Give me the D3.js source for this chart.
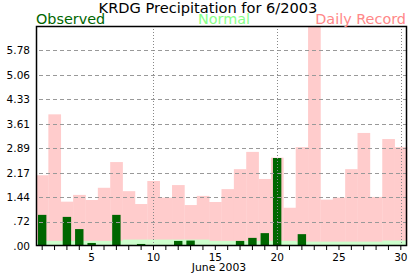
<!DOCTYPE html>
<html>
<head>
<meta charset="utf-8">
<script src="https://cdn.jsdelivr.net/npm/d3@7"></script>
<style>
  body { margin: 0; background: #fff; }
  svg { display: block; font-family: "DejaVu Sans", sans-serif; }
</style>
</head>
<body>
<svg id="chart"></svg>
<script>
// June 2003 daily values (inches)
const days = d3.range(1, 31);
const observed = [0.92, 0, 0.86, 0.50, 0.09, 0, 0.92, 0.03, 0.06, 0,
                  0, 0.15, 0.16, 0, 0, 0, 0.15, 0.24, 0.38, 2.60,
                  0.03, 0.35, 0, 0, 0, 0, 0, 0, 0, 0];
const normal = [0.15, 0.15, 0.15, 0.15, 0.15, 0.15, 0.15, 0.19, 0.19, 0.19,
                0.19, 0.19, 0.19, 0.19, 0.15, 0.15, 0.15, 0.15, 0.15, 0.15,
                0.15, 0.13, 0.13, 0.13, 0.13, 0.13, 0.13, 0.13, 0.16, 0.16];
const record = [2.09, 3.89, 1.31, 1.51, 1.36, 1.72, 2.48, 1.62, 1.24, 1.92,
                1.43, 1.80, 1.21, 1.48, 1.30, 1.68, 2.27, 2.78, 1.98, 2.61,
                1.13, 2.92, 6.50, 1.37, 1.43, 2.27, 3.34, 1.45, 3.16, 2.92];
const yTickValues = [0, 0.7222, 1.4444, 2.1667, 2.8889, 3.6111, 4.3333, 5.0556, 5.7778];
const xTickLabels = [5, 10, 15, 20, 25, 30];
const xGridDays = [10, 20, 30];

const width = 417;
const height = 276;
const margin = { top: 26, right: 10, bottom: 30, left: 36 };

const svg = d3.select("#chart").attr("width", width).attr("height", height);

const x = d3.scaleBand()
  .domain(days)
  .range([margin.left, width - margin.right])
  .padding(0);

const y = d3.scaleLinear()
  .domain([0, 6.5])
  .range([height - margin.bottom, margin.top]);

const bw = x.bandwidth();

// bars: record, then normal, then observed on top
svg.append("g")
  .selectAll("rect")
  .data(days)
  .join("rect")
  .attr("x", (d) => x(d))
  .attr("width", bw + 0.3)
  .attr("y", (d, i) => y(record[i]))
  .attr("height", (d, i) => y(0) - y(record[i]))
  .attr("fill", "#ffcccc");

svg.append("g")
  .selectAll("rect")
  .data(days)
  .join("rect")
  .attr("x", (d) => x(d))
  .attr("width", bw + 0.3)
  .attr("y", (d, i) => y(normal[i]))
  .attr("height", (d, i) => y(0) - y(normal[i]))
  .attr("fill", "#ccffcc");

svg.append("g")
  .selectAll("rect")
  .data(days.filter((d, i) => observed[i] > 0))
  .join("rect")
  .attr("x", (d) => x(d) + bw * 0.16)
  .attr("width", bw * 0.68)
  .attr("y", (d) => y(observed[d - 1]))
  .attr("height", (d) => y(0) - y(observed[d - 1]))
  .attr("fill", "#006600");

// grid on top of bars
svg.append("g")
  .selectAll("line")
  .data(yTickValues.slice(1))
  .join("line")
  .attr("x1", margin.left + 3)
  .attr("x2", width - margin.right)
  .attr("y1", (d) => Math.round(y(d)) + 0.5)
  .attr("y2", (d) => Math.round(y(d)) + 0.5)
  .attr("stroke", "#999")
  .attr("stroke-dasharray", "4,3");

svg.append("g")
  .selectAll("line")
  .data(xGridDays)
  .join("line")
  .attr("x1", (d) => Math.round(x(d) + bw / 2) + 0.5)
  .attr("x2", (d) => Math.round(x(d) + bw / 2) + 0.5)
  .attr("y1", margin.top)
  .attr("y2", height - margin.bottom)
  .attr("stroke", "#888")
  .attr("stroke-dasharray", "1,2");

// axes
const xAxis = svg.append("g")
  .attr("transform", `translate(0,${height - margin.bottom})`)
  .call(
    d3.axisBottom(x)
      .tickSize(4)
      .tickPadding(4)
      .tickFormat((d) => (xTickLabels.includes(d) ? d : ""))
  );
xAxis.select(".domain").remove();
xAxis.selectAll("text").attr("font-size", 10.5).attr("font-family", "DejaVu Sans").attr("fill", "#000");
xAxis.selectAll("line").attr("stroke", "#000");

const yAxis = svg.append("g")
  .attr("transform", `translate(${margin.left},0)`)
  .call(
    d3.axisLeft(y)
      .tickValues(yTickValues)
      .tickSize(0)
      .tickPadding(6)
      .tickFormat((d) => d3.format(".2f")(d).replace(/^0/, ""))
  );
yAxis.select(".domain").remove();
yAxis.selectAll("text").attr("font-size", 10.5).attr("font-family", "DejaVu Sans").attr("fill", "#000");

// plot frame
svg.append("rect")
  .attr("x", margin.left + 0.5)
  .attr("y", margin.top + 0.5)
  .attr("width", width - margin.left - margin.right - 1)
  .attr("height", height - margin.top - margin.bottom - 1)
  .attr("fill", "none")
  .attr("stroke", "#000")
  .attr("stroke-width", 1.5);

// titles
svg.append("text")
  .attr("x", 208)
  .attr("y", 12.5)
  .attr("text-anchor", "middle")
  .attr("font-size", 14.6)
  .text("KRDG Precipitation for 6/2003");

svg.append("text")
  .attr("x", margin.left)
  .attr("y", 23.5)
  .attr("font-size", 14.4)
  .attr("fill", "#006600")
  .text("Observed");

svg.append("text")
  .attr("x", 224)
  .attr("y", 23.5)
  .attr("text-anchor", "middle")
  .attr("font-size", 14.4)
  .attr("fill", "#88ff88")
  .text("Normal");

svg.append("text")
  .attr("x", 406)
  .attr("y", 23.5)
  .attr("text-anchor", "end")
  .attr("font-size", 14.4)
  .attr("fill", "#ff8888")
  .text("Daily Record");

svg.append("text")
  .attr("x", 219)
  .attr("y", 270.5)
  .attr("text-anchor", "middle")
  .attr("font-size", 10.8)
  .text("June 2003");
</script>
</body>
</html>
